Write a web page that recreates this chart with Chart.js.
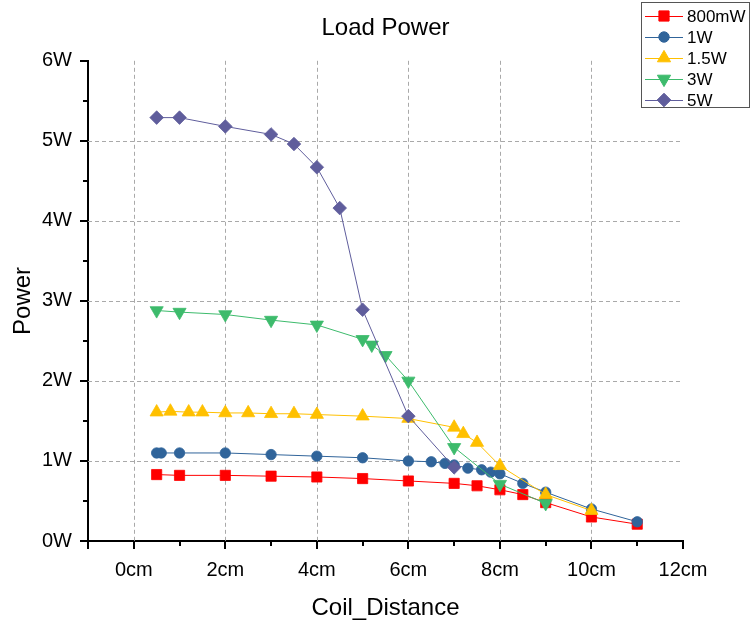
<!DOCTYPE html>
<html>
<head>
<meta charset="utf-8">
<title>Load Power</title>
<script src="https://cdn.jsdelivr.net/npm/chart.js@4/dist/chart.umd.min.js"></script>
<style>
  html, body { margin: 0; padding: 0; background: #ffffff; }
  #wrap { width: 751px; height: 620px; }
</style>
</head>
<body>
<div id="wrap"><canvas id="chart" width="751" height="620"></canvas></div>
<script>
// Measured load power (W) against coil distance (cm) for each source setting
const seriesNames = ['800mW', '1W', '1.5W', '3W', '5W'];

const dist800mW  = [0.5, 1, 2, 3, 4, 5, 6, 7, 7.5, 8, 8.5, 9, 10, 11];
const power800mW = [0.83, 0.82, 0.82, 0.81, 0.80, 0.78, 0.75, 0.72, 0.69, 0.64, 0.58, 0.48, 0.30, 0.21];

const dist1W  = [0.5, 0.6, 1, 2, 3, 4, 5, 6, 6.5, 6.8, 7, 7.3, 7.6, 7.8, 8, 8.5, 9, 10, 11];
const power1W = [1.10, 1.10, 1.10, 1.10, 1.08, 1.06, 1.04, 1.00, 0.99, 0.97, 0.95, 0.91, 0.89, 0.86, 0.84, 0.72, 0.61, 0.40, 0.24];

const dist1_5W  = [0.5, 0.8, 1.2, 1.5, 2, 2.5, 3, 3.5, 4, 5, 6, 7, 7.2, 7.5, 8, 9, 10];
const power1_5W = [1.61, 1.62, 1.61, 1.61, 1.60, 1.60, 1.59, 1.59, 1.58, 1.56, 1.53, 1.42, 1.34, 1.23, 0.94, 0.58, 0.38];

const dist3W  = [0.5, 1, 2, 3, 4, 5, 5.2, 5.5, 6, 7, 8, 9];
const power3W = [2.88, 2.86, 2.83, 2.76, 2.70, 2.52, 2.45, 2.32, 2.00, 1.17, 0.71, 0.47];

const dist5W  = [0.5, 1, 2, 3, 3.5, 4, 4.5, 5, 6, 7];
const power5W = [5.29, 5.29, 5.18, 5.08, 4.96, 4.67, 4.16, 2.89, 1.56, 0.92];

// Axis ticks and grid positions
const xTickValues  = [-1, 0, 2, 4, 6, 8, 10, 12];
const xMinorTicks  = [1, 3, 5, 7, 9, 11];
const xGridValues  = [0, 2, 4, 6, 8, 10];
const yTickValues  = [0, 1, 2, 3, 4, 5, 6];
const yMinorTicks  = [0.5, 1.5, 2.5, 3.5, 4.5, 5.5];
const yGridValues  = [1, 2, 3, 4, 5];

const FONT = "'Liberation Sans', Arial, Helvetica, sans-serif";

function toPoints(xs, ys) {
  return xs.map((x, i) => ({ x: x, y: ys[i] }));
}

const styles = [
  { color: '#ff0000', pointStyle: 'rect',     rotation: 0,   radius: 7.2, order: 5 },
  { color: '#30649a', pointStyle: 'circle',   rotation: 0,   radius: 5.2, order: 4 },
  { color: '#ffc000', pointStyle: 'triangle', rotation: 0,   radius: 7.6, order: 3 },
  { color: '#3dbb6c', pointStyle: 'triangle', rotation: 180, radius: 7.6, order: 2 },
  { color: '#5f5d9c', pointStyle: 'rectRot',  rotation: 0,   radius: 6.8, order: 1 }
];

const seriesData = [
  toPoints(dist800mW, power800mW),
  toPoints(dist1W, power1W),
  toPoints(dist1_5W, power1_5W),
  toPoints(dist3W, power3W),
  toPoints(dist5W, power5W)
];

const datasets = seriesNames.map((name, i) => ({
  label: name,
  data: seriesData[i],
  borderColor: styles[i].color,
  backgroundColor: styles[i].color,
  borderWidth: 1,
  tension: 0,
  pointStyle: styles[i].pointStyle,
  pointRotation: styles[i].rotation,
  pointRadius: styles[i].radius,
  pointHoverRadius: styles[i].radius,
  pointBorderWidth: 0.8,
  pointBackgroundColor: styles[i].color,
  pointBorderColor: styles[i].color,
  order: styles[i].order
}));

// Dashed grey grid behind the series
const dashedGrid = {
  id: 'dashedGrid',
  beforeDatasetsDraw(chart) {
    const ctx = chart.ctx;
    const xs = chart.scales.x, ys = chart.scales.y;
    const a = chart.chartArea;
    ctx.save();
    ctx.strokeStyle = '#a9a9a9';
    ctx.lineWidth = 1;
    ctx.setLineDash([4, 3]);
    ctx.beginPath();
    xGridValues.forEach(v => {
      const p = Math.round(xs.getPixelForValue(v)) + 0.5;
      ctx.moveTo(p, a.top); ctx.lineTo(p, a.bottom);
    });
    yGridValues.forEach(v => {
      const p = Math.round(ys.getPixelForValue(v)) + 0.5;
      ctx.moveTo(a.left, p); ctx.lineTo(a.right, p);
    });
    ctx.stroke();
    ctx.restore();
  }
};

// Outward major and minor tick marks on both axes
const axisTicks = {
  id: 'axisTicks',
  afterDraw(chart) {
    const ctx = chart.ctx;
    const xs = chart.scales.x, ys = chart.scales.y;
    const x0 = chart.chartArea.left, y0 = chart.chartArea.bottom;
    ctx.save();
    ctx.strokeStyle = '#000';
    ctx.lineWidth = 2;
    ctx.beginPath();
    xTickValues.forEach(v => { const p = Math.round(xs.getPixelForValue(v)); ctx.moveTo(p, y0); ctx.lineTo(p, y0 + 8); });
    xMinorTicks.forEach(v => { const p = Math.round(xs.getPixelForValue(v)); ctx.moveTo(p, y0); ctx.lineTo(p, y0 + 5); });
    yTickValues.forEach(v => { const p = Math.round(ys.getPixelForValue(v)); ctx.moveTo(x0, p); ctx.lineTo(x0 - 8, p); });
    yMinorTicks.forEach(v => { const p = Math.round(ys.getPixelForValue(v)); ctx.moveTo(x0, p); ctx.lineTo(x0 - 5, p); });
    ctx.stroke();
    ctx.restore();
  }
};

// Boxed key with a line sample and marker per series
const seriesKey = {
  id: 'seriesKey',
  afterDraw(chart) {
    const ctx = chart.ctx;
    const left = 641, top = 2, width = 109, height = 106;
    ctx.save();
    ctx.fillStyle = '#ffffff';
    ctx.fillRect(left, top, width, height);
    ctx.strokeStyle = '#555555';
    ctx.lineWidth = 1;
    ctx.strokeRect(left + 0.5, top + 0.5, width - 1, height - 1);
    chart.data.datasets.forEach((ds, i) => {
      const y = 16 + i * 21;
      ctx.strokeStyle = ds.borderColor;
      ctx.lineWidth = 1;
      ctx.beginPath();
      ctx.moveTo(645, y + 0.5);
      ctx.lineTo(683, y + 0.5);
      ctx.stroke();
      ctx.fillStyle = ds.pointBackgroundColor;
      ctx.strokeStyle = ds.pointBorderColor;
      Chart.helpers.drawPoint(ctx, {
        pointStyle: ds.pointStyle,
        rotation: ds.pointRotation,
        radius: ds.pointRadius,
        borderWidth: ds.pointBorderWidth
      }, 664, y);
      ctx.fillStyle = '#000000';
      ctx.font = '17px ' + FONT;
      ctx.textAlign = 'left';
      ctx.textBaseline = 'middle';
      ctx.fillText(ds.label, 687, y + 1);
    });
    ctx.restore();
  }
};

new Chart(document.getElementById('chart'), {
  type: 'line',
  data: { datasets: datasets },
  plugins: [dashedGrid, axisTicks, seriesKey],
  options: {
    responsive: false,
    animation: false,
    devicePixelRatio: 1,
    layout: { padding: { left: 0, right: 68, top: 0, bottom: 0 } },
    plugins: {
      legend: { display: false },
      tooltip: { enabled: false },
      title: {
        display: true,
        text: 'Load Power',
        fullSize: false,
        color: '#000000',
        font: { family: FONT, size: 24, weight: 'normal', lineHeight: 1.2 },
        padding: { top: 14, bottom: 18 }
      }
    },
    scales: {
      x: {
        type: 'linear',
        min: -1,
        max: 12,
        afterBuildTicks: s => { s.ticks = xTickValues.map(v => ({ value: v })); },
        afterFit: s => { s.height = 79; },
        ticks: {
          autoSkip: false,
          maxRotation: 0,
          padding: 17,
          color: '#000000',
          font: { family: FONT, size: 20 },
          callback: v => (v === -1 ? '' : v + 'cm')
        },
        grid: { display: false, drawTicks: false },
        border: { display: true, color: '#000000', width: 2 },
        title: {
          display: true,
          text: 'Coil_Distance',
          color: '#000000',
          font: { family: FONT, size: 24, lineHeight: 1 },
          padding: { top: 0, bottom: 0 }
        }
      },
      y: {
        type: 'linear',
        min: 0,
        max: 6,
        afterBuildTicks: s => { s.ticks = yTickValues.map(v => ({ value: v })); },
        afterFit: s => { s.width = 88; },
        ticks: {
          padding: 16,
          color: '#000000',
          font: { family: FONT, size: 20 },
          callback: v => v + 'W'
        },
        grid: { display: false, drawTicks: false },
        border: { display: true, color: '#000000', width: 2 },
        title: {
          display: true,
          text: 'Power',
          color: '#000000',
          font: { family: FONT, size: 24, lineHeight: 1 },
          padding: { top: 11, bottom: 0 }
        }
      }
    }
  }
});
</script>
</body>
</html>
